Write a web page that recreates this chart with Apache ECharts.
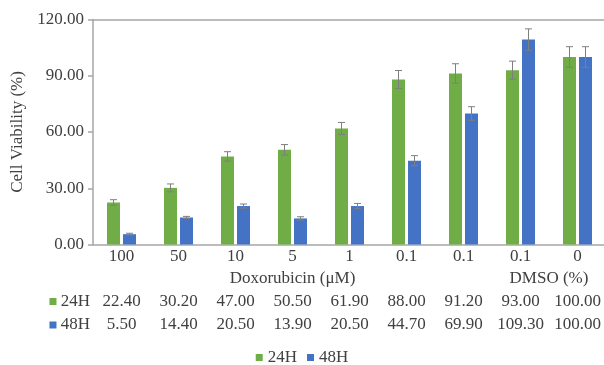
<!DOCTYPE html>
<html>
<head>
<meta charset="utf-8">
<script src="https://cdn.jsdelivr.net/npm/echarts@6/dist/echarts.min.js"></script>
<style>html,body{margin:0;padding:0;background:#fff}#c{width:604px;height:365px}</style>
</head>
<body>
<div id="c"></div>
<script>
const categories = ['100', '50', '10', '5', '1', '0.1', '0.1', '0.1', '0'];
const groupLabels = ['', '', '', 'Doxorubicin (\u03bcM)', '', '', '', 'DMSO (%)', ''];
const seriesNames = ['24H', '48H'];
const values24 = [22.4, 30.2, 47.0, 50.5, 61.9, 88.0, 91.2, 93.0, 100.0];
const values48 = [5.5, 14.4, 20.5, 13.9, 20.5, 44.7, 69.9, 109.3, 100.0];
const err24 = [1.5, 2.1, 2.5, 2.8, 3.2, 4.8, 5.2, 4.8, 5.5];
const err48 = [0.5, 0.6, 1.1, 0.9, 1.4, 2.7, 3.6, 5.7, 5.5];
const yMin = 0, yMax = 120, yInterval = 30;

const FONT = 'Liberation Serif';
const TXT = '#404040';
const AXIS = '#A6A6A6';
const GREEN = '#70AD47';
const BLUE = '#4472C4';
const BAR_W = 13, BAR_GAP = 3;
const fs = 17;

function rowAxis(name, color, values, offset) {
  return {
    type: 'category', gridIndex: 0, position: 'bottom', offset: offset,
    data: values.map(v => v.toFixed(2)),
    axisLine: { show: false }, axisTick: { show: false },
    axisLabel: { interval: 0, margin: 0, verticalAlign: 'middle', color: TXT, fontFamily: FONT, fontSize: fs },
    name: '{sq|}{t| ' + name + '}', nameLocation: 'start', nameGap: 3,
    nameTextStyle: {
      verticalAlign: 'middle', align: 'right',
      rich: {
        sq: { width: 7, height: 7, backgroundColor: color },
        t: { color: TXT, fontFamily: FONT, fontSize: fs }
      }
    }
  };
}

function errSeries(vals, errs, dx) {
  return {
    type: 'custom', xAxisIndex: 0, yAxisIndex: 0, silent: true, z: 5,
    data: vals.map((v, i) => [i, v, errs[i]]),
    renderItem: function (params, api) {
      const i = api.value(0), v = api.value(1), e = api.value(2);
      const t = api.coord([i, v + e]);
      const b = api.coord([i, v - e]);
      const x = t[0] + dx, cw = 3.5;
      const st = { stroke: '#7F7F7F', lineWidth: 1 };
      return {
        type: 'group', children: [
          { type: 'line', shape: { x1: x, y1: t[1], x2: x, y2: b[1] }, style: st },
          { type: 'line', shape: { x1: x - cw, y1: t[1], x2: x + cw, y2: t[1] }, style: st },
          { type: 'line', shape: { x1: x - cw, y1: b[1], x2: x + cw, y2: b[1] }, style: st }
        ]
      };
    }
  };
}

const chart = echarts.init(document.getElementById('c'), null, { renderer: 'canvas' });
const off = (BAR_W + BAR_GAP) / 2;
chart.setOption({
  animation: false,
  backgroundColor: '#fff',
  textStyle: { fontFamily: FONT },
  grid: { left: 93, top: 19.5, width: 513, height: 225, outerBoundsMode: 'none', containLabel: false },
  legend: {
    data: seriesNames, left: 'center', top: 344, icon: 'rect', itemWidth: 7, itemHeight: 7, itemGap: 10,
    textStyle: { color: TXT, fontFamily: FONT, fontSize: fs }
  },
  xAxis: [
    {
      type: 'category', data: categories, position: 'bottom',
      axisLine: { show: true, lineStyle: { color: AXIS, width: 1.5 } },
      axisTick: { show: false },
      axisLabel: { interval: 0, margin: 4, color: TXT, fontFamily: FONT, fontSize: fs }
    },
    {
      type: 'category', data: groupLabels, position: 'bottom', offset: 34,
      axisLine: { show: false }, axisTick: { show: false },
      axisLabel: {
        interval: 0, margin: 0, verticalAlign: 'middle', color: TXT, fontFamily: FONT, fontSize: fs,
        formatter: function (v) { return v === 'DMSO (%)' ? '{d|' + v + '}' : v; },
        rich: { d: { padding: [0, 0, 0, 57], color: TXT, fontFamily: FONT, fontSize: fs } }
      }
    },
    rowAxis(seriesNames[0], GREEN, values24, 57),
    rowAxis(seriesNames[1], BLUE, values48, 80.5),
    {
      type: 'category', data: categories, position: 'top',
      axisLine: { show: true, lineStyle: { color: AXIS, width: 1.5 } },
      axisTick: { show: false }, axisLabel: { show: false }
    }
  ],
  yAxis: {
    type: 'value', min: yMin, max: yMax, interval: yInterval,
    name: 'Cell Viability (%)', nameLocation: 'middle', nameGap: 60,
    nameTextStyle: { color: TXT, fontFamily: FONT, fontSize: fs },
    axisLine: { show: true, lineStyle: { color: AXIS, width: 1.5 } },
    axisTick: { show: true, length: 5, lineStyle: { color: AXIS, width: 1.5 } },
    splitLine: { show: false },
    axisLabel: { margin: 9, color: TXT, fontFamily: FONT, fontSize: fs, formatter: v => v.toFixed(2) }
  },
  series: [
    { name: seriesNames[0], type: 'bar', data: values24, barWidth: BAR_W, barGap: (BAR_GAP / BAR_W * 100) + '%', itemStyle: { color: GREEN } },
    { name: seriesNames[1], type: 'bar', data: values48, barWidth: BAR_W, barGap: (BAR_GAP / BAR_W * 100) + '%', itemStyle: { color: BLUE } },
    errSeries(values24, err24, -off),
    errSeries(values48, err48, off)
  ]
});
</script>
</body>
</html>
